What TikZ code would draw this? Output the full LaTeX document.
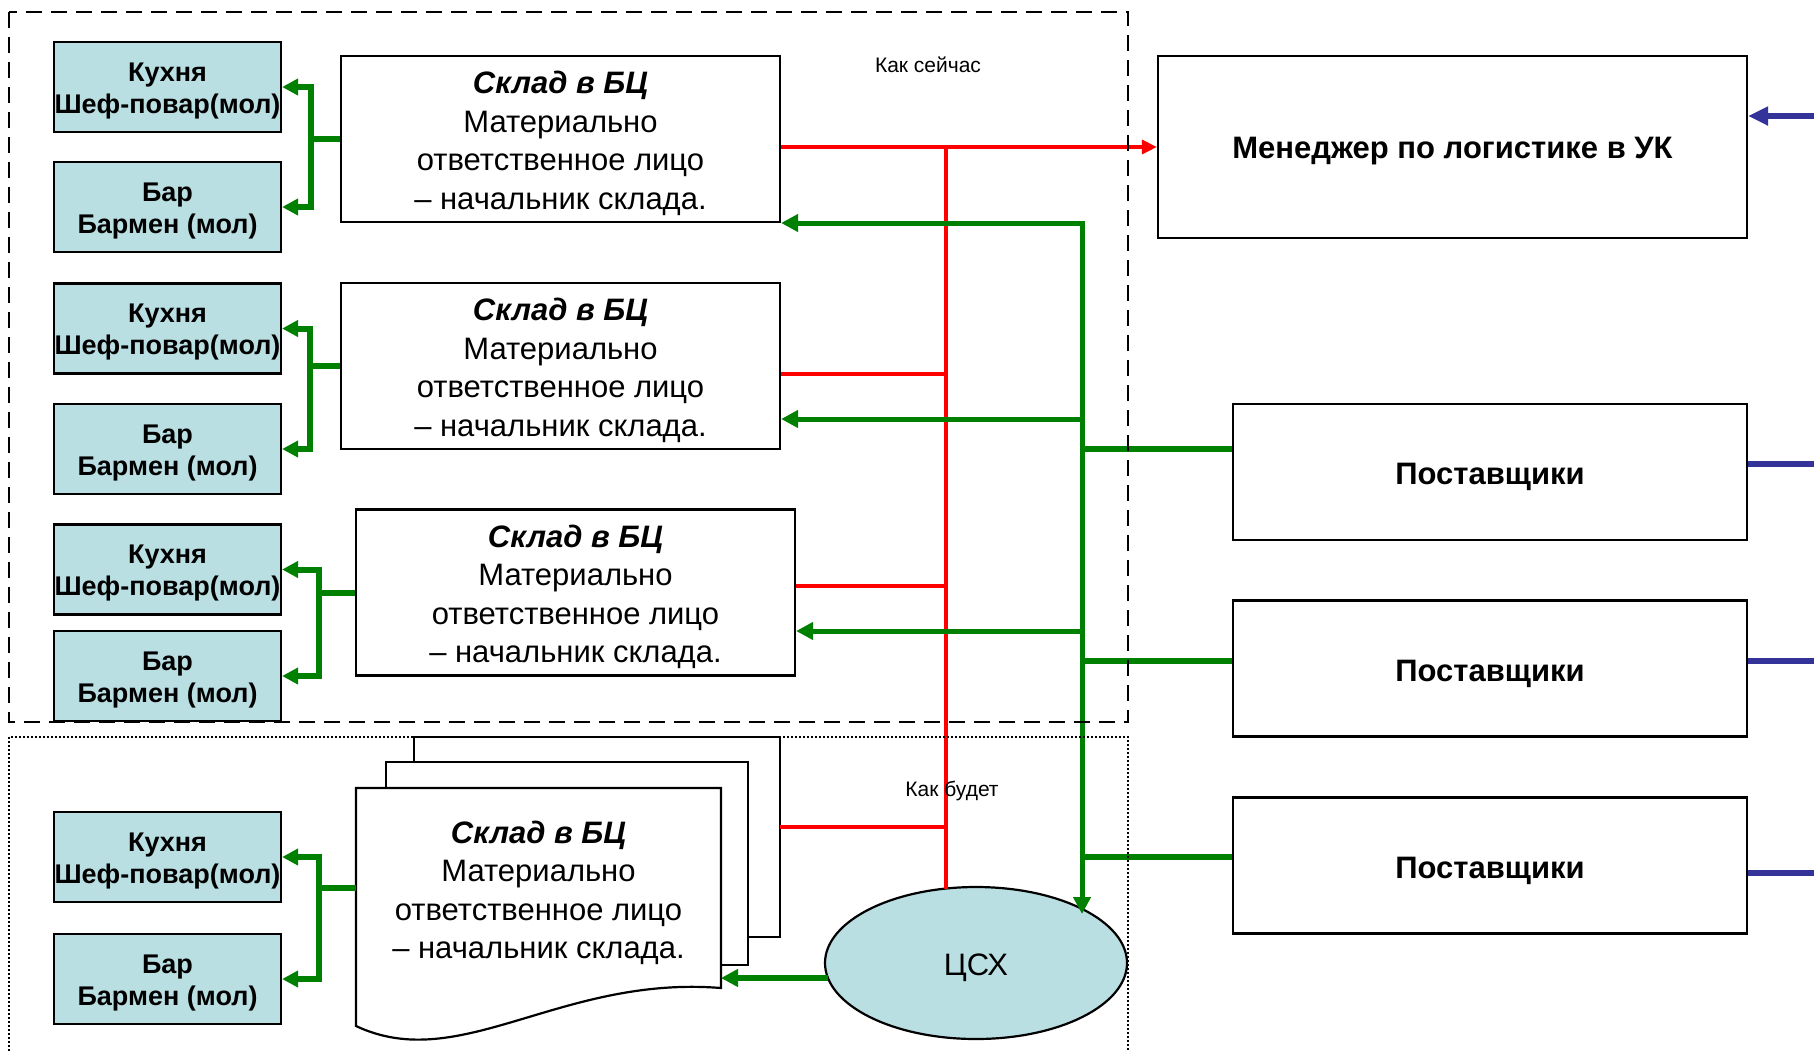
\documentclass[tikz,border=0pt]{standalone}
\usepackage{fontspec}
\setmainfont{Liberation Sans}
\usetikzlibrary{arrows.meta,shapes.geometric}
\definecolor{tealfill}{RGB}{185,223,227}
\definecolor{grn}{RGB}{0,128,0}
\definecolor{blu}{RGB}{51,51,153}
\newcommand{\tstrut}{\rule{0pt}{13.2pt}}
\newcommand{\sstrut}{\rule{0pt}{15.7pt}}
\newcommand{\mstrut}{\rule{0pt}{14.6pt}}
\newcommand{\skladtxt}{\sstrut{\bfseries\itshape Склад в БЦ}\\Материально\\ответственное лицо\\– начальник склада.}
\begin{document}
\begin{tikzpicture}[x=0.5pt,y=-0.5pt,
  tealbox/.style={draw=black,line width=1.1pt,fill=tealfill,minimum width=113.5pt,minimum height=45pt,inner sep=0pt,align=center,font=\fontsize{13.5}{16}\selectfont\bfseries},
  skladbox/.style={draw=black,line width=1.1pt,fill=white,minimum width=219.5pt,minimum height=83pt,inner sep=0pt,align=center,font=\fontsize{15.5}{19.25}\selectfont},
  skladtext/.style={inner sep=0pt,align=center,font=\fontsize{15.5}{19.25}\selectfont},
  bigbox/.style={draw=black,line width=1.1pt,fill=white,inner sep=0pt,align=center,font=\fontsize{15.5}{19}\selectfont\bfseries},
  page/.style={draw=black,line width=1.1pt,fill=white},
  gline/.style={draw=grn,line width=2.5pt},
  gtip/.tip={Triangle[length=8.5pt,width=8.5pt]},
  garrow/.style={gline,-gtip},
  brline/.style={draw=grn,line width=3pt},
  brarrow/.style={brline,-{Triangle[length=8pt,width=8pt]}},
  pline/.style={draw=grn,line width=3pt},
  rline/.style={draw=red,line width=1.7pt},
  rarrow/.style={rline,-{Triangle[length=7.5pt,width=7pt]}},
  bline/.style={draw=blu,line width=3pt},
  barrow/.style={bline,-{Triangle[length=10pt,width=9pt]}},
  labeltext/.style={inner sep=0pt,font=\fontsize{10.5}{12}\selectfont}
]
\useasboundingbox (0,0) rectangle (1814,1051);

% left boxes
\node[tealbox] (k1) at (167.5,87) {\tstrut Кухня\\Шеф-повар(мол)};
\node[tealbox] (b1) at (167.5,207) {\tstrut Бар\\Бармен (мол)};
\node[tealbox] (k2) at (167.5,328.5) {\tstrut Кухня\\Шеф-повар(мол)};
\node[tealbox] (b2) at (167.5,449) {\tstrut Бар\\Бармен (мол)};
\node[tealbox] (k3) at (167.5,569.5) {\tstrut Кухня\\Шеф-повар(мол)};
\node[tealbox] (b3) at (167.5,676) {\tstrut Бар\\Бармен (мол)};
\node[tealbox] (k4) at (167.5,857) {\tstrut Кухня\\Шеф-повар(мол)};
\node[tealbox] (b4) at (167.5,979) {\tstrut Бар\\Бармен (мол)};

% warehouses
\node[skladbox] (s1) at (560.5,139) {\skladtxt};
\node[skladbox] (s2) at (560.5,366) {\skladtxt};
\node[skladbox] (s3) at (575.5,592.5) {\skladtxt};

% document stack
\draw[page] (414,737) rectangle (780,937);
\draw[page] (386,762) rectangle (748,965);
\draw[page] (356,788) -- (721,788) -- (721,988) .. controls (560,975) and (460,1075) .. (356,1026) -- cycle;
\node[skladtext] (s4) at (538.5,888.5) {\skladtxt};
\coordinate (s4w) at (356,888);
\coordinate (s4e) at (780,827);

% right side
\node[bigbox,minimum width=294.5pt,minimum height=91pt] (m) at (1452.5,147) {\mstrut Менеджер по логистике в УК};
\node[bigbox,minimum width=257pt,minimum height=68pt] (p1) at (1490,472) {\sstrut Поставщики};
\node[bigbox,minimum width=257pt,minimum height=68pt] (p2) at (1490,668.5) {\sstrut Поставщики};
\node[bigbox,minimum width=257pt,minimum height=68pt] (p3) at (1490,865.5) {\sstrut Поставщики};

\node[ellipse,draw=black,line width=1.1pt,fill=tealfill,minimum width=151pt,minimum height=76pt,inner sep=0pt,font=\fontsize{15.5}{19}\selectfont] (c) at (976,963) {\sstrut ЦСХ};

% red connectors
\coordinate (rt) at (946,147);
\coordinate (rb) at (946,889);
\coordinate (r2) at (946,374);
\coordinate (r3) at (946,586);
\coordinate (r4) at (946,827);
\draw[rarrow] (s1.east |- m.west) -- (m.west);
\draw[rline] (rt) -- (rb);
\draw[rline] (s2.east |- r2) -- (r2);
\draw[rline] (s3.east |- r3) -- (r3);
\draw[rline] (s4e) -- (r4);

% green trunk
\coordinate (gt) at (1082,223);
\coordinate (gb) at (1082,914);
\coordinate (g2) at (1082,419);
\coordinate (g3) at (1082,631);
\draw[gline,gtip-gtip] (s1.east |- gt) -- (gt) -- (gb);
\draw[garrow] (g2) -- (s2.east |- g2);
\draw[garrow] (g3) -- (s3.east |- g3);
\coordinate (j1) at (1082,449);
\coordinate (j2) at (1082,661);
\coordinate (j3) at (1082,857);
\draw[pline] (p1.west |- j1) -- (j1);
\draw[pline] (p2.west |- j2) -- (j2);
\draw[pline] (p3.west |- j3) -- (j3);
\coordinate (ce) at (828,978);
\coordinate (fe) at (721,978);
\draw[brline,-{Triangle[length=8.5pt,width=8.5pt]}] (ce) -- (fe);

% brackets
\coordinate (br1) at (311,139);
\coordinate (br2) at (310,366);
\coordinate (br3) at (319,592.5);
\coordinate (br4) at (319,888);
\draw[brline] (s1.west) -- (br1);
\draw[brarrow] (br1) |- (k1.east);
\draw[brarrow] (br1) |- (b1.east);
\draw[brline] (s2.west) -- (br2);
\draw[brarrow] (br2) |- (k2.east);
\draw[brarrow] (br2) |- (b2.east);
\draw[brline] (s3.west) -- (br3);
\draw[brarrow] (br3) |- (k3.east);
\draw[brarrow] (br3) |- (b3.east);
\draw[brline] (s4w) -- (br4);
\draw[brarrow] (br4) |- (k4.east);
\draw[brarrow] (br4) |- (b4.east);

% blue
\coordinate (be) at (1814,116);
\coordinate (bp1) at (1814,464);
\coordinate (bp2) at (1814,661);
\coordinate (bp3) at (1814,873);
\draw[barrow] (be) -- (m.east |- be);
\draw[bline] (p1.east |- bp1) -- (bp1);
\draw[bline] (p2.east |- bp2) -- (bp2);
\draw[bline] (p3.east |- bp3) -- (bp3);

% frames
\draw[line width=1pt,dash pattern=on 8pt off 4.5pt] (9,12) rectangle (1128,722);
\draw[line width=0.8pt,dash pattern=on 0.8pt off 1.2pt] (9,1051) -- (9,737) -- (1128,737) -- (1128,1051);

% labels
\node[labeltext] (lab1) at (928,65) {Как сейчас};
\node[labeltext] (lab2) at (952,791) {Как будет};
\end{tikzpicture}
\end{document}
